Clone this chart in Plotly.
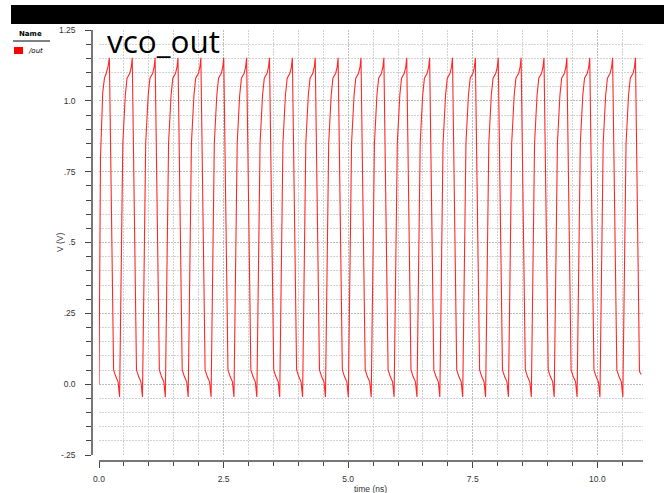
import plotly.graph_objects as go

# ---------------- data ----------------
# start-up part of the waveform (time ns, volts)
init_t = [0.0, 0.02, 0.03, 0.075, 0.11, 0.15, 0.18]
init_v = [0.0, 0.70, 0.80, 1.03, 1.08, 1.10, 1.12]

# times of the 24 peaks (ns)
peak_times = [0.208, 0.667, 1.126, 1.585, 2.044, 2.503, 2.962, 3.421,
              3.880, 4.339, 4.798, 5.257, 5.716, 6.175, 6.634, 7.093,
              7.552, 8.011, 8.470, 8.929, 9.388, 9.847, 10.306, 10.765]
peak_v = 1.152

# shape of one cycle after a peak: offsets (ns) from the peak and volts
cycle_off = [0.04, 0.085, 0.13, 0.175, 0.205, 0.235, 0.27, 0.32, 0.355, 0.41, 0.44]
cycle_v = [0.60, 0.05, 0.026, 0.008, -0.045, 0.30, 0.85, 1.02, 1.08, 1.097, 1.12]

# last sample of the run
end_t = [10.845, 10.88]
end_v = [0.045, 0.034]

x_tickvals = [0.0, 2.5, 5.0, 7.5, 10.0]
x_ticktext = ["0.0", "2.5", "5.0", "7.5", "10.0"]
y_tickvals = [1.25, 1.0, 0.75, 0.5, 0.25, 0.0, -0.25]
y_ticktext = ["1.25", "1.0", ".75", ".5", ".25", "0.0", "-.25"]

# ---------------- build the series table ----------------
t = list(init_t)
v = list(init_v)
for i, p in enumerate(peak_times):
    t.append(p)
    v.append(peak_v)
    if i < len(peak_times) - 1:
        for o, val in zip(cycle_off, cycle_v):
            t.append(p + o)
            v.append(val)
t += end_t
v += end_v

# ---------------- layout helpers (pixel -> paper) ----------------
W, H = 664, 493
L, R, T, B = 92, 643, 30, 461


def px(x):
    return (x - L) / (R - L)


def py(y):
    return (B - y) / (B - T)


fig = go.Figure()
fig.add_trace(go.Scatter(x=t, y=v, mode="lines",
                         line=dict(color="rgb(255,40,40)", width=1.1),
                         name="/out", showlegend=False, hoverinfo="skip"))

tickfont = dict(family="Liberation Sans", size=8.5, color="#333333")
major_grid = "#bdbdbd"
minor_grid = "#d2d2d2"
gdash = "2px,1px"

fig.update_layout(
    width=W, height=H,
    margin=dict(l=L, r=W - R, t=T, b=H - B, pad=0),
    paper_bgcolor="white", plot_bgcolor="white",
    showlegend=False,
    xaxis=dict(
        domain=[px(99), 1], range=[0, 10.916], anchor="free", position=0,
        showline=True, linecolor="#777777", linewidth=1.5,
        ticks="outside", ticklen=6, tickwidth=1, tickcolor="#444444",
        tickmode="array", tickvals=x_tickvals, ticktext=x_ticktext,
        tickfont=tickfont, ticklabelstandoff=4,
        showgrid=True, gridcolor=major_grid, gridwidth=1, griddash=gdash,
        zeroline=False, automargin=False,
        minor=dict(tickmode="linear", tick0=0, dtick=0.5, ticks="outside",
                   ticklen=4, tickcolor="#444444", showgrid=True,
                   gridcolor=minor_grid, gridwidth=1, griddash=gdash),
    ),
    yaxis=dict(
        domain=[py(455), 1], range=[-0.25, 1.25], anchor="free", position=0,
        showline=True, linecolor="#777777", linewidth=1.5,
        ticks="outside", ticklen=6, tickwidth=1, tickcolor="#444444",
        tickmode="array", tickvals=y_tickvals, ticktext=y_ticktext,
        tickfont=tickfont, ticklabelstandoff=8,
        showgrid=True, gridcolor=major_grid, gridwidth=1, griddash=gdash,
        zeroline=False, automargin=False,
        minor=dict(tickmode="linear", tick0=0, dtick=0.05, ticks="outside",
                   ticklen=5, tickcolor="#444444", showgrid=True,
                   gridcolor=minor_grid, gridwidth=1, griddash=gdash),
    ),
)

shapes = [
    # black bar on top
    dict(type="rect", xref="paper", yref="paper", x0=px(11), x1=px(670),
         y0=py(24), y1=py(5), fillcolor="black", line=dict(width=0), layer="above"),
    # legend header underline
    dict(type="line", xref="paper", yref="paper", x0=px(13), x1=px(50),
         y0=py(41), y1=py(41), line=dict(color="black", width=1)),
    # legend swatch
    dict(type="rect", xref="paper", yref="paper", x0=px(14), x1=px(23),
         y0=py(54), y1=py(47), fillcolor="red", line=dict(width=0)),
]
annotations = [
    dict(text="vco_out", xref="paper", yref="paper", x=px(105), y=py(40),
         xanchor="left", yanchor="middle", showarrow=False,
         font=dict(family="Open Sans", size=31.5, color="black")),
    dict(text="<b>Name</b>", xref="paper", yref="paper", x=px(30), y=py(34),
         xanchor="center", yanchor="middle", showarrow=False,
         font=dict(family="DejaVu Sans", size=7, color="black")),
    dict(text="<i>/out</i>", xref="paper", yref="paper", x=px(26), y=py(50.5),
         xanchor="left", yanchor="middle", showarrow=False,
         font=dict(family="DejaVu Sans", size=7, color="black")),
    dict(text="V (V)", xref="paper", yref="paper", x=px(60), y=py(242),
         xanchor="center", yanchor="middle", showarrow=False, textangle=-90,
         font=dict(family="Liberation Sans", size=8.5, color="#333333")),
    dict(text="time (ns)", xref="paper", yref="paper", x=px(370), y=py(489),
         xanchor="center", yanchor="middle", showarrow=False,
         font=dict(family="Liberation Sans", size=8.5, color="#333333")),
]
fig.update_layout(shapes=shapes, annotations=annotations)

fig.write_html("out.html")
